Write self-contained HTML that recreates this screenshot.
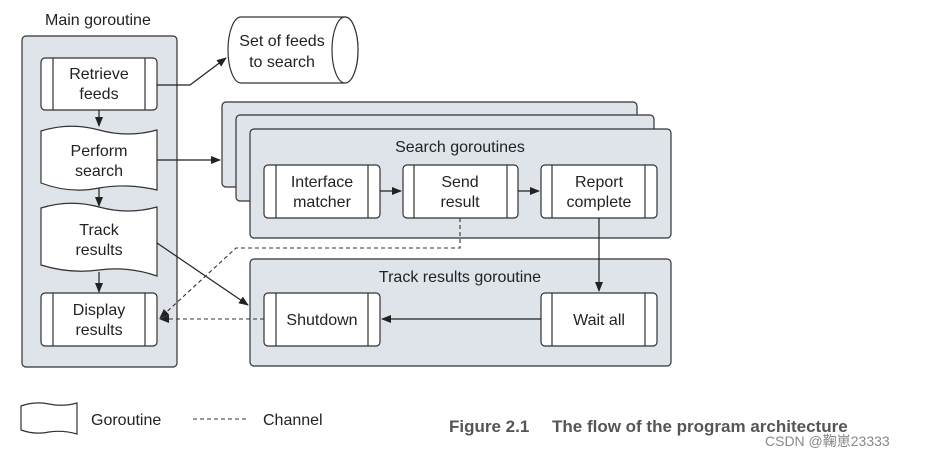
<!DOCTYPE html>
<html><head><style>
body{margin:0;background:#fff;width:928px;height:458px;overflow:hidden}
svg text{font-family:"Liberation Sans",sans-serif;font-size:16px;fill:#222}
</style></head><body>
<svg width="928" height="458" viewBox="0 0 928 458">
<defs><marker id="a" markerWidth="10" markerHeight="8" refX="9" refY="4" orient="auto" markerUnits="userSpaceOnUse"><path d="M0,0 L10,4 L0,8 Z" fill="#222"/></marker></defs>
<g stroke="#333" stroke-width="1.2" fill="#dfe3ea">
<rect x="22" y="36" width="155" height="331" rx="4"/>
<rect x="222" y="102" width="415" height="85" rx="4"/>
<rect x="236" y="115" width="418" height="86" rx="4"/>
<rect x="250" y="129" width="421" height="109" rx="4"/>
<rect x="250" y="259" width="421" height="107" rx="4"/>
</g>
<g stroke="#333" stroke-width="1.2" fill="#fff">
<path d="M241,17 H345 A13,33 0 0 1 345,83 H241 A13,33 0 0 1 241,17Z"/>
<ellipse cx="345" cy="50" rx="13" ry="33"/>
<path d="M41,131 Q70,122 99,130 Q128,138 157,130 V190 Q128,183 99,188 Q70,194 41,183Z"/>
<path d="M41,208 Q70,199 99,207 Q128,215 157,207 V276 Q128,266 99,270 Q70,274 41,265Z"/>
<path d="M21,406 Q35,401 49,404 Q63,407 77,403 V434 Q63,430 49,432 Q35,435 21,430Z"/>
</g>
<g stroke="#333" stroke-width="1.2" fill="#fff">
<rect x="41" y="58" width="116" height="52" rx="4"/>
<rect x="41" y="293" width="116" height="53" rx="4"/>
<rect x="264" y="165" width="116" height="53" rx="4"/>
<rect x="403" y="165" width="115" height="53" rx="4"/>
<rect x="541" y="165" width="116" height="53" rx="4"/>
<rect x="264" y="293" width="116" height="53" rx="4"/>
<rect x="541" y="293" width="116" height="53" rx="4"/>
</g>
<g stroke="#333" stroke-width="1.2">
<path d="M53,58V110M145,58V110M53,293V346M145,293V346M276,165V218M368,165V218M414,165V218M507,165V218M552,165V218M645,165V218M276,293V346M368,293V346M552,293V346M645,293V346"/>
</g>
<g stroke="#222" stroke-width="1.2" fill="none" marker-end="url(#a)">
<path d="M157,85H190L226,58"/>
<path d="M99,110V126"/>
<path d="M99,188V206"/>
<path d="M99,272V292"/>
<path d="M157,160H220"/>
<path d="M157,243L248,305"/>
<path d="M380,191H401"/>
<path d="M518,191H539"/>
<path d="M599,218V291"/>
<path d="M541,319H382"/>
</g>
<g stroke="#333" stroke-width="1.1" fill="none" stroke-dasharray="4,3" marker-end="url(#a)">
<path d="M460,218V248H236L160,318"/>
<path d="M264,319H160"/>
</g>
<path d="M193,419H248" stroke="#333" stroke-dasharray="4,3"/>
<text x="45" y="25">Main goroutine</text>
<g text-anchor="middle">
<text x="282" y="46">Set of feeds</text><text x="282" y="67">to search</text>
<text x="99" y="79">Retrieve</text><text x="99" y="99">feeds</text>
<text x="99" y="156">Perform</text><text x="99" y="176">search</text>
<text x="99" y="235">Track</text><text x="99" y="255">results</text>
<text x="99" y="315">Display</text><text x="99" y="335">results</text>
<text x="460" y="152">Search goroutines</text>
<text x="322" y="187">Interface</text><text x="322" y="207">matcher</text>
<text x="460" y="187">Send</text><text x="460" y="207">result</text>
<text x="599" y="187">Report</text><text x="599" y="207">complete</text>
<text x="460" y="282">Track results goroutine</text>
<text x="322" y="325">Shutdown</text>
<text x="599" y="325">Wait all</text>
</g>
<text x="91" y="425">Goroutine</text>
<text x="263" y="425">Channel</text>
<text x="449" y="432" style="font-weight:bold;font-size:17px;fill:#555">Figure 2.1</text>
<text x="552" y="432" style="font-weight:bold;font-size:17px;fill:#555">The flow of the program architecture</text>
<text x="765" y="446" style="font-size:14px;fill:#888;font-family:'Liberation Sans','Noto Sans CJK SC',sans-serif">CSDN @鞠崽23333</text>
</svg>
</body></html>
